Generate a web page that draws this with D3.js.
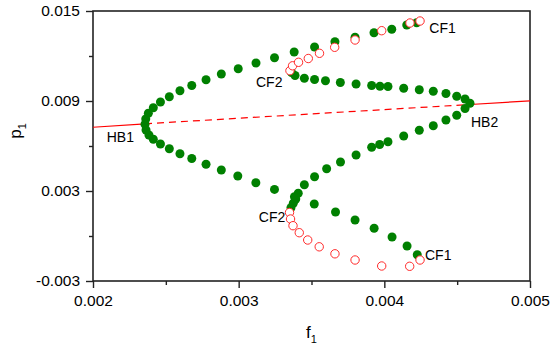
<!DOCTYPE html>
<html>
<head>
<meta charset="utf-8">
<script src="https://cdn.jsdelivr.net/npm/d3@7"></script>
<style>
  body { margin: 0; background: #fff; }
  svg { display: block; }
  text { font-family: Arial, "Liberation Sans", sans-serif; fill: #000; }
</style>
</head>
<body>
<div id="chart"></div>
<script>
// equilibrium line: stable left, unstable (dashed) between HB1 and HB2, stable right
const eqLeft = [[0.002, 0.00725], [0.002357, 0.00748]];
const eqMiddle = [[0.002357, 0.00748], [0.00456, 0.00875]];
const eqRight = [[0.00456, 0.00875], [0.005, 0.00901]];

// stable periodic orbits (filled green)
const hb1Upper = [
  [0.002357, 0.007447], [0.002362, 0.0078], [0.002380, 0.00818], [0.002414, 0.008553],
  [0.002463, 0.008933], [0.002524, 0.009287], [0.002597, 0.009687], [0.002678, 0.010033],
  [0.002776, 0.010413], [0.002881, 0.0108], [0.002997, 0.011147], [0.003119, 0.011533],
  [0.003246, 0.011887], [0.003381, 0.012267], [0.003521, 0.0126], [0.003661, 0.012953],
  [0.003799, 0.013247], [0.003929, 0.013553], [0.004051, 0.01378], [0.004154, 0.014067],
  [0.004222, 0.01422]
];
const hb1Lower = [
  [0.002364, 0.007067], [0.002384, 0.006733], [0.002414, 0.006447], [0.002463, 0.006133],
  [0.002524, 0.00582], [0.002597, 0.005487], [0.002678, 0.005167], [0.002776, 0.00478],
  [0.002881, 0.0044], [0.002994, 0.004], [0.003118, 0.003553], [0.003246, 0.003107],
  [0.003383, 0.002613], [0.003519, 0.002133], [0.003665, 0.0016], [0.003799, 0.001067],
  [0.003930, 0.000513], [0.004053, -0.000067], [0.004156, -0.000667], [0.004226, -0.001247]
];
const hb2Upper = [
  [0.004588, 0.008847], [0.004554, 0.009133], [0.004497, 0.009313], [0.004423, 0.0095],
  [0.004336, 0.009653], [0.004240, 0.009747], [0.004133, 0.009853], [0.004025, 0.009967],
  [0.003970, 0.009987], [0.003913, 0.010033], [0.003806, 0.010133], [0.003698, 0.010233],
  [0.003596, 0.010347], [0.003521, 0.010433], [0.003451, 0.010513], [0.003387, 0.0107],
  [0.003363, 0.0109]
];
const hb2Lower = [
  [0.004554, 0.0085], [0.004497, 0.008047], [0.004423, 0.007733], [0.004336, 0.007353],
  [0.004240, 0.007047], [0.004133, 0.006667], [0.004025, 0.006287], [0.003968, 0.0061],
  [0.003913, 0.005913], [0.003806, 0.0054], [0.003699, 0.004933], [0.003604, 0.00448],
  [0.003521, 0.003953], [0.003451, 0.00342], [0.003409, 0.002847], [0.003392, 0.002467],
  [0.003375, 0.00218], [0.003359, 0.001887]
];

// unstable periodic orbits (open red)
const unstUpper = [
  [0.003352, 0.01102], [0.003370, 0.011347], [0.003411, 0.01158], [0.003478, 0.011833],
  [0.003555, 0.01218], [0.003659, 0.01258], [0.003799, 0.013067], [0.003982, 0.013687],
  [0.004176, 0.0142], [0.004245, 0.014333]
];
const unstLower = [
  [0.003349, 0.001567], [0.003356, 0.001133], [0.003373, 0.000687], [0.003416, 0.00022],
  [0.003474, -0.000267], [0.003553, -0.00072], [0.003661, -0.001187], [0.003799, -0.0016],
  [0.003982, -0.002], [0.004174, -0.00202], [0.004245, -0.0016]
];

const labels = [
  { text: "HB1", f: 0.002094, p: 0.006287 },
  { text: "HB2", f: 0.004595, p: 0.007287 },
  { text: "CF2", f: 0.003119, p: 0.00996 },
  { text: "CF1", f: 0.004309, p: 0.013513 },
  { text: "CF2", f: 0.003138, p: 0.000953 },
  { text: "CF1", f: 0.004279, p: -0.0016 }
];

const xTicks = [0.002, 0.003, 0.004, 0.005];
const xTickLabels = ["0.002", "0.003", "0.004", "0.005"];
const xMinor = [0.0025, 0.0035, 0.0045];
const yTicks = [-0.003, 0.003, 0.009, 0.015];
const yTickLabels = ["-0.003", "0.003", "0.009", "0.015"];
const yMinor = [0, 0.006, 0.012];

const width = 551, height = 350;
const margin = { top: 11, right: 21, bottom: 69, left: 93 };

const svg = d3.select("#chart").append("svg")
  .attr("width", width)
  .attr("height", height);

const x = d3.scaleLinear().domain([0.002, 0.005]).range([margin.left, width - margin.right]);
const y = d3.scaleLinear().domain([-0.003, 0.015]).range([height - margin.bottom, margin.top]);

// minor ticks
svg.append("g")
  .attr("transform", `translate(0,${height - margin.bottom})`)
  .call(d3.axisBottom(x).tickValues(xMinor).tickSize(4).tickFormat(""))
  .call(g => g.select(".domain").remove())
  .call(g => g.selectAll("line").attr("stroke", "#222").attr("stroke-width", 1.4));
svg.append("g")
  .attr("transform", `translate(${margin.left},0)`)
  .call(d3.axisLeft(y).tickValues(yMinor).tickSize(4).tickFormat(""))
  .call(g => g.select(".domain").remove())
  .call(g => g.selectAll("line").attr("stroke", "#222").attr("stroke-width", 1.4));

// major ticks
svg.append("g")
  .attr("transform", `translate(0,${height - margin.bottom})`)
  .call(d3.axisBottom(x).tickValues(xTicks).tickSize(7).tickPadding(7)
    .tickFormat((d, i) => xTickLabels[i]))
  .call(g => g.select(".domain").remove())
  .call(g => g.selectAll("line").attr("stroke", "#222").attr("stroke-width", 1.4))
  .call(g => g.selectAll("text").attr("font-size", 15.5).attr("font-family", "Arial, 'Liberation Sans', sans-serif"));
svg.append("g")
  .attr("transform", `translate(${margin.left},0)`)
  .call(d3.axisLeft(y).tickValues(yTicks).tickSize(7).tickPadding(6)
    .tickFormat((d, i) => yTickLabels[i]))
  .call(g => g.select(".domain").remove())
  .call(g => g.selectAll("line").attr("stroke", "#222").attr("stroke-width", 1.4))
  .call(g => g.selectAll("text").attr("font-size", 15.5).attr("font-family", "Arial, 'Liberation Sans', sans-serif"));

// frame
svg.append("rect")
  .attr("x", margin.left)
  .attr("y", margin.top)
  .attr("width", width - margin.left - margin.right)
  .attr("height", height - margin.top - margin.bottom)
  .attr("fill", "none")
  .attr("stroke", "#222")
  .attr("stroke-width", 1.6);

const line = d3.line().x(d => x(d[0])).y(d => y(d[1]));

svg.append("path").datum(eqLeft).attr("d", line)
  .attr("fill", "none").attr("stroke", "#ff0000").attr("stroke-width", 1.2);
svg.append("path").datum(eqMiddle).attr("d", line)
  .attr("fill", "none").attr("stroke", "#ff0000").attr("stroke-width", 1.2)
  .attr("stroke-dasharray", "7,5");
svg.append("path").datum(eqRight).attr("d", line)
  .attr("fill", "none").attr("stroke", "#ff0000").attr("stroke-width", 1.2);

const stable = [hb1Upper, hb1Lower, hb2Upper, hb2Lower].flat();
svg.append("g").selectAll("circle")
  .data(stable)
  .join("circle")
  .attr("cx", d => x(d[0]))
  .attr("cy", d => y(d[1]))
  .attr("r", 4.5)
  .attr("fill", "#008000");

const unstable = [unstUpper, unstLower].flat();
svg.append("g").selectAll("circle")
  .data(unstable)
  .join("circle")
  .attr("cx", d => x(d[0]))
  .attr("cy", d => y(d[1]))
  .attr("r", 4.2)
  .attr("fill", "#fff")
  .attr("stroke", "#ff2a2a")
  .attr("stroke-width", 1);

svg.append("g").selectAll("text")
  .data(labels)
  .join("text")
  .attr("x", d => x(d.f))
  .attr("y", d => y(d.p))
  .attr("font-size", 14)
  .text(d => d.text);

// axis titles
const xTitle = svg.append("text")
  .attr("x", (margin.left + width - margin.right) / 2)
  .attr("y", 338)
  .attr("text-anchor", "middle")
  .attr("font-size", 17);
xTitle.append("tspan").text("f");
xTitle.append("tspan").attr("font-size", 11).attr("dy", 5).text("1");

const yTitle = svg.append("text")
  .attr("transform", "translate(21,131) rotate(-90)")
  .attr("text-anchor", "middle")
  .attr("font-size", 17);
yTitle.append("tspan").text("p");
yTitle.append("tspan").attr("font-size", 11).attr("dy", 5).text("1");
</script>
</body>
</html>
